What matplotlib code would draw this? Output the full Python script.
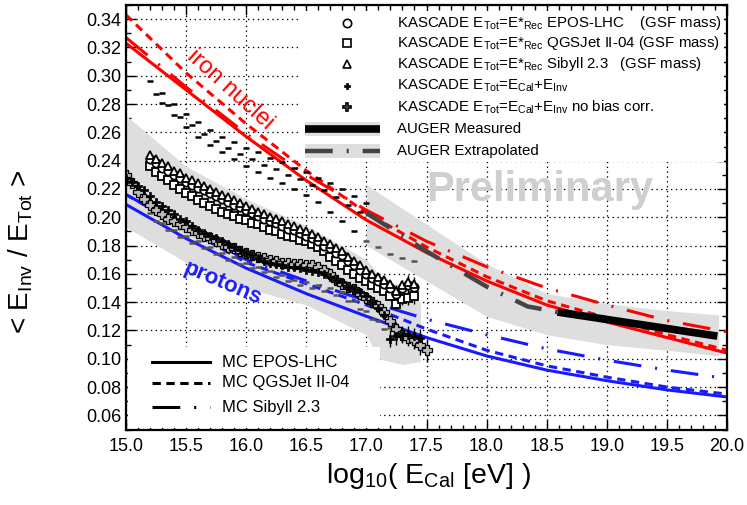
import numpy as np
import matplotlib
matplotlib.use("Agg")
import matplotlib.pyplot as plt
from matplotlib.patches import Rectangle
from matplotlib.ticker import MultipleLocator, FormatStrFormatter

plt.rcParams['font.family'] = ['Liberation Sans', 'DejaVu Sans']
plt.rcParams['mathtext.default'] = 'regular'
plt.rcParams['lines.scale_dashes'] = False

# MC predictions (iron / protons) for three hadronic models
mc_x = [15.0, 15.5, 16.0, 16.5, 17.0, 17.5, 18.0, 18.5, 19.0, 19.5, 20.0]
fe_epos = [0.323, 0.290, 0.257, 0.226, 0.198, 0.175, 0.155, 0.138, 0.126, 0.115, 0.104]
fe_qgs = [0.343, 0.302, 0.266, 0.233, 0.203, 0.179, 0.158, 0.141, 0.129, 0.117, 0.106]
fe_sib = [0.327, 0.292, 0.259, 0.230, 0.205, 0.183, 0.165, 0.150, 0.138, 0.127, 0.119]
p_epos = [0.209, 0.185, 0.164, 0.146, 0.130, 0.115, 0.102, 0.092, 0.0845, 0.078, 0.073]
p_qgs = [0.216, 0.192, 0.168, 0.153, 0.138, 0.121, 0.106, 0.095, 0.087, 0.080, 0.075]
p_sib = [0.216, 0.193, 0.170, 0.155, 0.141, 0.128, 0.117, 0.107, 0.099, 0.092, 0.086]

# systematic bands
band1_x = [15.0, 15.5, 16.0, 16.5, 17.0, 17.1, 17.3, 17.45]
band1_hi = [0.272, 0.236, 0.213, 0.194, 0.170, 0.160, 0.150, 0.140]
band1_lo = [0.193, 0.168, 0.150, 0.138, 0.117, 0.100, 0.096, 0.098]
band2_x = [17.0, 17.5, 18.0, 18.5, 19.0, 19.5, 19.93]
band2_hi = [0.223, 0.195, 0.167, 0.146, 0.139, 0.134, 0.131]
band2_lo = [0.180, 0.155, 0.130, 0.117, 0.110, 0.106, 0.102]

# AUGER
aug_ext_x = [17.0, 17.5, 18.0, 18.34, 18.59]
aug_ext_y = [0.203, 0.176, 0.151, 0.137, 0.133]
aug_meas_x = [18.59, 19.92]
aug_meas_y = [0.133, 0.116]

# KASCADE E_Tot = E*_Rec (GSF mass)
xg = [15.20, 15.25, 15.30, 15.35, 15.40, 15.45, 15.50, 15.55, 15.60, 15.65,
      15.70, 15.75, 15.80, 15.85, 15.90, 15.95, 16.00, 16.05, 16.10, 16.15,
      16.20, 16.25, 16.30, 16.35, 16.40, 16.45, 16.50, 16.55, 16.60, 16.65,
      16.70, 16.75, 16.80, 16.85, 16.90, 16.95, 17.00, 17.05, 17.10, 17.15,
      17.20, 17.25, 17.30, 17.35, 17.40]
k_sib = [0.244, 0.241, 0.238, 0.236, 0.233, 0.231, 0.228, 0.226, 0.224, 0.222,
         0.220, 0.218, 0.216, 0.214, 0.212, 0.210, 0.208, 0.206, 0.204, 0.202,
         0.200, 0.199, 0.197, 0.195, 0.194, 0.192, 0.190, 0.188, 0.186, 0.183,
         0.181, 0.178, 0.176, 0.172, 0.169, 0.166, 0.163, 0.160, 0.158, 0.156,
         0.153, 0.148, 0.152, 0.154, 0.153]
k_qgs = [0.236, 0.232, 0.229, 0.226, 0.223, 0.220, 0.217, 0.215, 0.212, 0.210,
         0.208, 0.206, 0.204, 0.202, 0.201, 0.199, 0.198, 0.196, 0.195, 0.193,
         0.191, 0.190, 0.188, 0.187, 0.186, 0.184, 0.183, 0.181, 0.179, 0.176,
         0.172, 0.169, 0.166, 0.163, 0.160, 0.157, 0.155, 0.152, 0.150, 0.148,
         0.144, 0.139, 0.142, 0.143, 0.144]
k_epos = [0.241, 0.238, 0.235, 0.233, 0.230, 0.228, 0.225, 0.223, 0.221, 0.219,
          0.217, 0.215, 0.213, 0.211, 0.209, 0.207, 0.205, 0.203, 0.201, 0.199,
          0.197, 0.196, 0.194, 0.192, 0.191, 0.189, 0.187, 0.185, 0.183, 0.180,
          0.178, 0.175, 0.173, 0.169, 0.166, 0.163, 0.160, 0.157, 0.155, 0.153,
          0.150, 0.146, 0.150, 0.152, 0.151]
k_tail_err = [0.004, 0.004, 0.005, 0.005]

# KASCADE E_Tot = E_Cal + E_Inv
xk = [15.00, 15.05, 15.10, 15.15, 15.20, 15.25, 15.30, 15.35, 15.40, 15.45,
      15.50, 15.55, 15.60, 15.65, 15.70, 15.75, 15.80, 15.85, 15.90, 15.95,
      16.00, 16.05, 16.10, 16.15, 16.20, 16.25, 16.30, 16.35, 16.40, 16.45,
      16.50, 16.55, 16.60, 16.65, 16.70, 16.75, 16.80, 16.85, 16.90, 16.95,
      17.00, 17.05, 17.10, 17.15, 17.20, 17.25, 17.30, 17.35, 17.40, 17.45,
      17.50]
k_cal = [0.228, 0.225, 0.222, 0.219, 0.215, 0.211, 0.208, 0.205, 0.202, 0.199,
         0.197, 0.194, 0.191, 0.189, 0.187, 0.185, 0.183, 0.181, 0.179, 0.177,
         0.175, 0.173, 0.171, 0.169, 0.168, 0.167, 0.166, 0.165, 0.165, 0.164,
         0.163, 0.162, 0.161, 0.160, 0.158, 0.156, 0.154, 0.151, 0.149, 0.147,
         0.144, 0.140, 0.136, 0.131, 0.114, 0.116, 0.117, 0.117, 0.116, 0.115]
k_cal_tail_err = [0.006, 0.006, 0.005, 0.006, 0.006, 0.006]
k_nobias = [0.230, 0.224, 0.218, 0.213, 0.209, 0.205, 0.202, 0.199, 0.197, 0.195,
            0.193, 0.191, 0.189, 0.187, 0.185, 0.183, 0.181, 0.179, 0.178, 0.176,
            0.175, 0.173, 0.172, 0.171, 0.170, 0.169, 0.168, 0.168, 0.167, 0.167,
            0.166, 0.166, 0.165, 0.163, 0.160, 0.156, 0.153, 0.151, 0.149, 0.146,
            0.143, 0.140, 0.137, 0.133, 0.127, 0.121, 0.117, 0.115, 0.113, 0.110,
            0.106]
k_nobias_tail_err = [0.005, 0.006, 0.006, 0.006, 0.007, 0.008]

# pure-mass assumptions (short dash markers)
fe_a_x = [15.2, 15.3, 15.4, 15.5, 15.6, 15.7, 15.8, 15.9, 16.0, 16.1,
          16.2, 16.3, 16.4, 16.5, 16.6, 16.7, 16.8, 16.9, 17.0]
fe_a = [0.296, 0.288, 0.280, 0.273, 0.267, 0.262, 0.257, 0.253, 0.249, 0.246,
        0.242, 0.239, 0.235, 0.232, 0.228, 0.224, 0.220, 0.215, 0.210]
fe_b_x = [15.25, 15.35, 15.45, 15.55, 15.65, 15.75, 15.85, 15.95, 16.05, 16.15,
          16.25, 16.35, 16.45, 16.55, 16.65, 16.75, 16.85, 16.95]
fe_b = [0.287, 0.279, 0.271, 0.265, 0.259, 0.254, 0.249, 0.245, 0.241, 0.237,
        0.234, 0.230, 0.227, 0.223, 0.219, 0.214, 0.209, 0.204]
fe_c_x = [15.3, 15.4, 15.5, 15.6, 15.7, 15.8, 15.9, 16.0, 16.1, 16.2,
          16.3, 16.4, 16.5, 16.6, 16.7, 16.8, 16.9, 17.0, 17.1, 17.2, 17.3, 17.4]
fe_c = [0.281, 0.272, 0.264, 0.257, 0.251, 0.246, 0.241, 0.236, 0.232, 0.228,
        0.224, 0.220, 0.216, 0.211, 0.204, 0.197, 0.190, 0.183, 0.179, 0.174,
        0.171, 0.169]
p_a_x = [15.2, 15.3, 15.4, 15.5, 15.6, 15.7, 15.8, 15.9, 16.0, 16.1, 16.2,
         16.3, 16.4, 16.5, 16.6, 16.7, 16.8, 16.9, 17.0, 17.1, 17.2, 17.3]
p_a = [0.203, 0.196, 0.191, 0.187, 0.183, 0.179, 0.175, 0.172, 0.168, 0.165, 0.162,
       0.159, 0.156, 0.154, 0.152, 0.150, 0.147, 0.141, 0.134, 0.127, 0.122, 0.119]
p_b_x = [15.25, 15.35, 15.45, 15.55, 15.65, 15.75, 15.85, 15.95, 16.05, 16.15, 16.25,
         16.35, 16.45, 16.55, 16.65, 16.75, 16.85, 16.95, 17.05, 17.15, 17.25]
p_b = [0.197, 0.191, 0.186, 0.182, 0.178, 0.174, 0.170, 0.167, 0.164, 0.161, 0.158,
       0.155, 0.152, 0.150, 0.148, 0.145, 0.141, 0.135, 0.128, 0.121, 0.117]

fig = plt.figure(figsize=(7.47, 5.05), dpi=100)
ax = fig.add_axes([126 / 747, 1 - 429.5 / 505, 601 / 747, 424.5 / 505])
ax.set_axisbelow(True)

grey_band = '#dedede'
ax.fill_between(band1_x, band1_lo, band1_hi, color=grey_band, lw=0, zorder=1)
ax.fill_between(band2_x, band2_lo, band2_hi, color=grey_band, lw=0, zorder=1)

ax.text(18.44, 0.219, 'Preliminary', color='#cfcfcf', fontsize=30,
        fontweight='bold', ha='center', va='center', zorder=1.5)

dash_q = (0, (6, 4))
dash_s = (0, (20, 10, 1.5, 10))
lw_mc = 2.2
for col, ys, ls in [('red', fe_epos, '-'), ('red', fe_qgs, dash_q), ('red', fe_sib, dash_s),
                    ('#1a1aff', p_epos, '-'), ('#1a1aff', p_qgs, dash_q), ('#1a1aff', p_sib, dash_s)]:
    ax.plot(mc_x, ys, color=col, lw=lw_mc, linestyle=ls, zorder=3)

# AUGER
ax.plot(aug_ext_x, aug_ext_y, color='#444444', lw=3.2, linestyle=dash_s, zorder=4)
ax.plot(aug_meas_x, aug_meas_y, color='black', lw=5.5, solid_capstyle='butt', zorder=4)

# dash markers
dash_kw = dict(linestyle='none', marker='_', markersize=4, mew=1.8, zorder=3.5)
ax.plot(fe_a_x, fe_a, color='black', **dash_kw)
ax.plot(fe_b_x, fe_b, color='black', **dash_kw)
ax.plot(fe_c_x[:17], fe_c[:17], color='black', **dash_kw)
ax.plot(fe_c_x[17:], fe_c[17:], color='#555555', **dash_kw)
ax.plot(p_a_x, p_a, color='#555555', **dash_kw)
ax.plot(p_b_x, p_b, color='#555555', **dash_kw)

# KASCADE data
n = len(k_tail_err)
for ys, mk, ms in [(k_qgs, 's', 6.2), (k_epos, 'o', 6.0), (k_sib, '^', 6.4)]:
    ax.errorbar(xg[-n:], ys[-n:], yerr=k_tail_err, fmt='none', ecolor='black',
                elinewidth=1, zorder=4.5)
    ax.plot(xg, ys, linestyle='none', marker=mk, markersize=ms, mfc='white',
            mec='black', mew=1.3, zorder=5)

n = len(k_nobias_tail_err)
ax.errorbar(xk[-n:], k_nobias[-n:], yerr=k_nobias_tail_err, fmt='none',
            ecolor='black', elinewidth=1, zorder=4.5)
ax.plot(xk, k_nobias, linestyle='none', marker='P', markersize=6.5, mfc='#bbbbbb',
        mec='black', mew=0.9, zorder=5)
n = len(k_cal_tail_err)
ax.errorbar(xk[len(k_cal) - n:len(k_cal)], k_cal[-n:], yerr=k_cal_tail_err, fmt='none',
            ecolor='black', elinewidth=1, zorder=4.5)
ax.plot(xk[:len(k_cal)], k_cal, linestyle='none', marker='P', markersize=5.5,
        mfc='black', mec='black', mew=0.5, zorder=5.2)

ax.text(15.87, 0.290, 'iron nuclei', color='red', fontsize=17, rotation=-42,
        ha='center', va='center', zorder=6)
ax.text(15.80, 0.1535, 'protons', color='#1a1aff', fontsize=16, fontweight='bold',
        rotation=-23, ha='center', va='center', zorder=6)

# axes
ax.set_xlim(15.0, 20.0)
ax.set_ylim(0.05, 0.35)
ax.xaxis.set_major_locator(MultipleLocator(0.5))
ax.xaxis.set_minor_locator(MultipleLocator(0.1))
ax.yaxis.set_major_locator(MultipleLocator(0.02))
ax.yaxis.set_minor_locator(MultipleLocator(0.01))
ax.xaxis.set_major_formatter(FormatStrFormatter('%.1f'))
ax.yaxis.set_major_formatter(FormatStrFormatter('%.2f'))
ax.tick_params(which='both', direction='in', top=True, right=True, labelsize=13, width=1)
ax.tick_params(which='major', length=7)
ax.tick_params(which='minor', length=3.5)
ax.tick_params(axis='x', pad=6)
ax.grid(True, which='major', color='black', linestyle=(0, (1, 2.5)), lw=0.9)
for sp in ax.spines.values():
    sp.set_linewidth(1.6)
    sp.set_zorder(10)

ax.set_ylabel(r'< E$_{Inv}$ / E$_{Tot}$ >', fontsize=20)
ax.yaxis.set_label_coords(-0.151, 0.418)
fig.text(428 / 747, 1 - 476 / 505, r'log$_{10}$( E$_{Cal}$ [eV] )', fontsize=20.5,
         ha='center', va='center')

# legend: KASCADE / AUGER
ax.add_patch(Rectangle((0.287, 0.63), 0.708, 0.355, transform=ax.transAxes,
                       facecolor='white', edgecolor='none', zorder=1.2))
rows = [0.958, 0.910, 0.861, 0.809, 0.759, 0.708, 0.656]
labels = [r'KASCADE E$_{Tot}$=E*$_{Rec}$ EPOS-LHC    (GSF mass)',
          r'KASCADE E$_{Tot}$=E*$_{Rec}$ QGSJet II-04 (GSF mass)',
          r'KASCADE E$_{Tot}$=E*$_{Rec}$ Sibyll 2.3   (GSF mass)',
          r'KASCADE E$_{Tot}$=E$_{Cal}$+E$_{Inv}$',
          r'KASCADE E$_{Tot}$=E$_{Cal}$+E$_{Inv}$ no bias corr.',
          'AUGER Measured',
          'AUGER Extrapolated']
leg_marks = [('o', 'white', 6.0), ('s', 'white', 6.2), ('^', 'white', 6.2),
             ('P', 'black', 5.0), ('P', 'white', 6.0)]
for i, (mk, fc, ms) in enumerate(leg_marks):
    ax.plot([0.368], [rows[i]], transform=ax.transAxes, marker=mk, mfc=fc, mec='black',
            mew=1.2 if fc == 'white' else 0.5, markersize=ms, linestyle='none',
            clip_on=False, zorder=7)
for r, ls, lw, col in [(rows[5], '-', 5.5, 'black'), (rows[6], dash_s, 3.2, '#444444')]:
    ax.add_patch(Rectangle((0.298, r - 0.0175), 0.125, 0.035, transform=ax.transAxes,
                           facecolor=grey_band, edgecolor='none', zorder=6))
    ax.plot([0.298, 0.423], [r, r], transform=ax.transAxes, color=col, lw=lw,
            linestyle=ls, solid_capstyle='butt', clip_on=False, zorder=7)
for r, lab in zip(rows, labels):
    ax.text(0.451, r, lab, transform=ax.transAxes, fontsize=10.8, va='center', zorder=7)

# legend: MC
ax.add_patch(Rectangle((0.003, 0.003), 0.42, 0.191, transform=ax.transAxes,
                       facecolor='white', edgecolor='none', zorder=1.2))
mc_rows = [0.159, 0.110, 0.053]
mc_labels = ['MC EPOS-LHC', 'MC QGSJet II-04', 'MC Sibyll 2.3']
for r, lab, ls in zip(mc_rows, mc_labels, ['-', dash_q, dash_s]):
    ax.plot([0.043, 0.14], [r, r], transform=ax.transAxes, color='black', lw=lw_mc,
            linestyle=ls, clip_on=False, zorder=7)
    ax.text(0.160, r, lab, transform=ax.transAxes, fontsize=12, va='center', zorder=7)

fig.savefig('out.png', dpi=100)
